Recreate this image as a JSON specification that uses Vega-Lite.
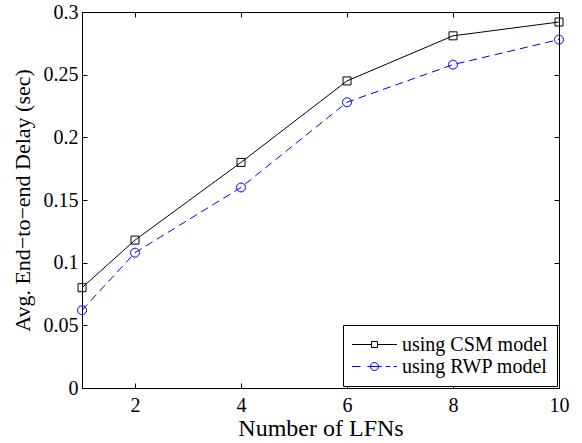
{
  "$schema": "https://vega.github.io/schema/vega-lite/v6.json",
  "width": 477,
  "height": 376,
  "autosize": "none",
  "padding": {"left": 82, "top": 12, "right": 23, "bottom": 55},
  "background": "white",
  "config": {
    "font": "Liberation Serif",
    "view": {"stroke": "black", "strokeWidth": 1},
    "axis": {
      "domainColor": "black",
      "tickColor": "black",
      "labelColor": "black",
      "titleColor": "black",
      "labelFont": "Liberation Serif",
      "titleFont": "Liberation Serif",
      "labelFontSize": 20,
      "titleFontSize": 22,
      "titleFontWeight": "normal",
      "grid": false,
      "tickSize": -5
    },
    "legend": {
      "title": null,
      "orient": "none",
      "legendX": 261,
      "legendY": 313,
      "strokeColor": "black",
      "fillColor": "white",
      "padding": 9,
      "labelFont": "Liberation Serif",
      "labelFontSize": 20,
      "labelColor": "black",
      "labelOffset": 17,
      "rowPadding": 1,
      "symbolSize": 400,
      "symbolOffset": 12,
      "symbolStrokeWidth": 1
    }
  },
  "data": {
    "values": [
      {"x": 1, "delay": 0.080, "series": "using CSM model"},
      {"x": 2, "delay": 0.118, "series": "using CSM model"},
      {"x": 4, "delay": 0.180, "series": "using CSM model"},
      {"x": 6, "delay": 0.245, "series": "using CSM model"},
      {"x": 8, "delay": 0.281, "series": "using CSM model"},
      {"x": 10, "delay": 0.292, "series": "using CSM model"},
      {"x": 1, "delay": 0.062, "series": "using RWP model"},
      {"x": 2, "delay": 0.108, "series": "using RWP model"},
      {"x": 4, "delay": 0.160, "series": "using RWP model"},
      {"x": 6, "delay": 0.228, "series": "using RWP model"},
      {"x": 8, "delay": 0.258, "series": "using RWP model"},
      {"x": 10, "delay": 0.278, "series": "using RWP model"}
    ]
  },
  "layer": [
    {
      "transform": [{"filter": "datum.series === 'using CSM model'"}],
      "mark": {"type": "line", "strokeWidth": 1, "color": "#000000"},
      "encoding": {
        "x": {
          "field": "x", "type": "quantitative",
          "scale": {"domain": [1, 10], "nice": false, "zero": false},
          "axis": {"orient": "bottom", "values": [2, 4, 6, 8, 10], "title": "Number of LFNs", "titleFontSize": 24, "labelPadding": 12, "titlePadding": 1, "labelFlush": false}
        },
        "y": {
          "field": "delay", "type": "quantitative",
          "scale": {"domain": [0, 0.3], "nice": false},
          "axis": {"orient": "left", "values": [0, 0.05, 0.1, 0.15, 0.2, 0.25, 0.3], "format": "~g", "title": "Avg. End−to−end Delay (sec)", "labelPadding": 9, "titlePadding": 9, "labelFlush": false}
        }
      }
    },
    {
      "transform": [{"filter": "datum.series === 'using RWP model'"}],
      "mark": {"type": "line", "strokeWidth": 1, "color": "#0000ff", "strokeDash": [8, 5]},
      "encoding": {
        "x": {"field": "x", "type": "quantitative", "axis": null},
        "y": {"field": "delay", "type": "quantitative", "axis": null}
      }
    },
    {
      "transform": [{"filter": "datum.series === 'using CSM model'"}],
      "mark": {"type": "point", "shape": "square", "filled": false, "size": 64, "strokeWidth": 1, "color": "#000000", "opacity": 1},
      "encoding": {
        "x": {"field": "x", "type": "quantitative", "axis": null},
        "y": {"field": "delay", "type": "quantitative", "axis": null}
      }
    },
    {
      "transform": [{"filter": "datum.series === 'using RWP model'"}],
      "mark": {"type": "point", "shape": "circle", "filled": false, "size": 80, "strokeWidth": 1, "color": "#0000ff", "opacity": 1},
      "encoding": {
        "x": {"field": "x", "type": "quantitative", "axis": null},
        "y": {"field": "delay", "type": "quantitative", "axis": null}
      }
    },
    {
      "transform": [{"filter": "datum.x < 0"}],
      "mark": {"type": "point", "filled": false, "strokeWidth": 1, "opacity": 1},
      "encoding": {
        "x": {
          "field": "x", "type": "quantitative",
          "axis": {"orient": "top", "values": [2, 4, 6, 8, 10], "labels": false, "title": null, "domain": false}
        },
        "y": {
          "field": "delay", "type": "quantitative",
          "axis": {"orient": "right", "values": [0, 0.05, 0.1, 0.15, 0.2, 0.25, 0.3], "labels": false, "title": null, "domain": false}
        },
        "color": {
          "field": "series", "type": "nominal",
          "scale": {"domain": ["using CSM model", "using RWP model"], "range": ["#000000", "#0000ff"]},
          "legend": {"orient": "none", "legendX": 261, "legendY": 313}
        },
        "shape": {
          "field": "series", "type": "nominal",
          "scale": {
            "domain": ["using CSM model", "using RWP model"],
            "range": [
              "M-2.25,0H-0.3M0.3,0H2.25M-0.3,-0.3H0.3V0.3H-0.3Z",
              "M-2.25,0H-1.4M-0.72,0H0.72M1.12,0H1.58M1.9,0H2.25M0.4,0A0.4,0.4 0 1,1 -0.4,0A0.4,0.4 0 1,1 0.4,0"
            ]
          },
          "legend": {"orient": "none", "legendX": 261, "legendY": 313}
        }
      }
    }
  ],
  "resolve": {"axis": {"x": "independent", "y": "independent"}}
}
